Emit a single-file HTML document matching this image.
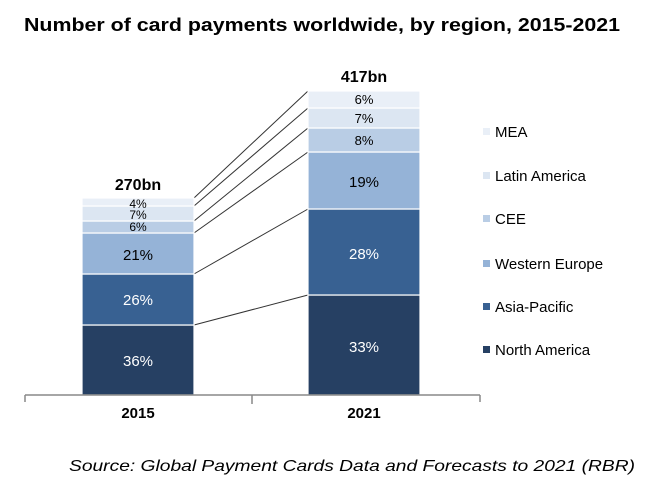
<!DOCTYPE html>
<html><head><meta charset="utf-8"><style>
body{margin:0;background:#fff}
svg{display:block;font-family:"Liberation Sans",Arial,sans-serif}
</style></head><body>
<svg width="660" height="484" viewBox="0 0 660 484" xmlns="http://www.w3.org/2000/svg">
<rect width="660" height="484" fill="#fff"/>
<text x="24" y="31" font-size="18" font-weight="bold" textLength="596" lengthAdjust="spacingAndGlyphs">Number of card payments worldwide,  by region, 2015-2021</text>
<g stroke="#333" stroke-width="1">
<line x1="194" y1="198" x2="308" y2="91"/>
<line x1="194" y1="206" x2="308" y2="108"/>
<line x1="194" y1="221" x2="308" y2="128"/>
<line x1="194" y1="233" x2="308" y2="152"/>
<line x1="194" y1="274" x2="308" y2="209"/>
<line x1="194" y1="325" x2="308" y2="295"/>
</g>
<g stroke="#fff" stroke-width="1.2">
<rect x="82" y="325" width="112" height="70" fill="#264063"/>
<rect x="82" y="274" width="112" height="51" fill="#386192"/>
<rect x="82" y="233" width="112" height="41" fill="#95b3d7"/>
<rect x="82" y="221" width="112" height="12" fill="#b9cde5"/>
<rect x="82" y="206" width="112" height="15" fill="#dce6f2"/>
<rect x="82" y="198" width="112" height="8" fill="#e9eff7"/>
<rect x="308" y="295" width="112" height="100" fill="#264063"/>
<rect x="308" y="209" width="112" height="86" fill="#386192"/>
<rect x="308" y="152" width="112" height="57" fill="#95b3d7"/>
<rect x="308" y="128" width="112" height="24" fill="#b9cde5"/>
<rect x="308" y="108" width="112" height="20" fill="#dce6f2"/>
<rect x="308" y="91" width="112" height="17" fill="#e9eff7"/>
</g>
<g font-size="15" text-anchor="middle">
<text x="138" y="366" fill="#fff">36%</text>
<text x="138" y="305" fill="#fff">26%</text>
<text x="138" y="260" fill="#000">21%</text>
<text x="138" y="231" fill="#000" font-size="12">6%</text>
<text x="138" y="219" fill="#000" font-size="12">7%</text>
<text x="138" y="208" fill="#000" font-size="12">4%</text>
<text x="364" y="352" fill="#fff">33%</text>
<text x="364" y="259" fill="#fff">28%</text>
<text x="364" y="187" fill="#000">19%</text>
<text x="364" y="145" fill="#000" font-size="13">8%</text>
<text x="364" y="123" fill="#000" font-size="13">7%</text>
<text x="364" y="104" fill="#000" font-size="13">6%</text>
<text x="138" y="190" font-weight="bold" font-size="16">270bn</text>
<text x="364" y="82" font-weight="bold" font-size="16">417bn</text>
</g>
<g stroke="#888" stroke-width="1.5">
<line x1="25" y1="395" x2="480" y2="395"/>
<line x1="25" y1="395" x2="25" y2="402"/>
<line x1="252" y1="395" x2="252" y2="404"/>
<line x1="480" y1="395" x2="480" y2="402"/>
</g>
<g font-size="15" text-anchor="middle" font-weight="bold">
<text x="138" y="418">2015</text>
<text x="364" y="418">2021</text>
</g>
<g font-size="15">
<rect x="483" y="128" width="7" height="7" fill="#e9eff7"/><text x="495" y="137">MEA</text>
<rect x="483" y="172" width="7" height="7" fill="#dce6f2"/><text x="495" y="181">Latin America</text>
<rect x="483" y="215" width="7" height="7" fill="#b9cde5"/><text x="495" y="224">CEE</text>
<rect x="483" y="260" width="7" height="7" fill="#95b3d7"/><text x="495" y="269">Western Europe</text>
<rect x="483" y="303" width="7" height="7" fill="#386192"/><text x="495" y="312">Asia-Pacific</text>
<rect x="483" y="346" width="7" height="7" fill="#264063"/><text x="495" y="355">North America</text>
</g>
<text x="69" y="471" font-size="16" font-style="italic" textLength="566" lengthAdjust="spacingAndGlyphs">Source: Global Payment Cards Data and Forecasts to 2021 (RBR)</text>
</svg>
</body></html>
